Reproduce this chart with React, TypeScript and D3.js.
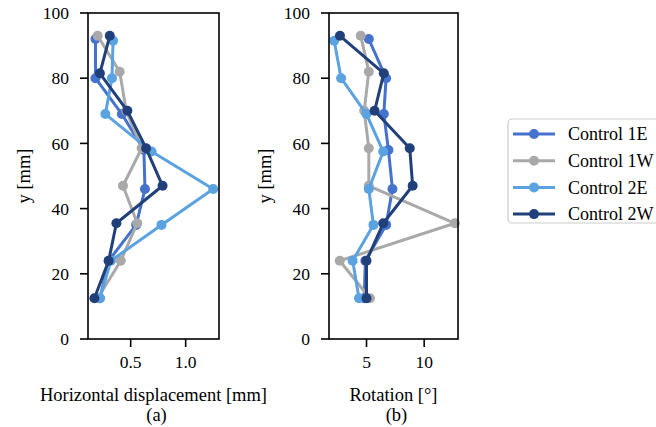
import React from 'react';
import * as d3 from 'd3';

// measured heights [mm] and values per specimen, top to bottom
const seriesNames = ['Control 1E', 'Control 1W', 'Control 2E', 'Control 2W'];
const seriesColors = ['#4472cc', '#a9a9a9', '#5aa3e0', '#21407a'];

const heights1E = [92, 80, 69, 58, 46, 35, 24, 12.5];
const heights1W = [93, 82, 70, 58.5, 47, 35.5, 24, 12.5];
const heights2E = [91.5, 80, 69, 57.5, 46, 35, 24, 12.5];
const heights2W = [93, 81.5, 70, 58.5, 47, 35.5, 24, 12.5];

const disp1E = [0.18, 0.18, 0.42, 0.62, 0.63, 0.55, 0.30, 0.22];
const disp1W = [0.2, 0.4, 0.46, 0.6, 0.43, 0.56, 0.41, 0.2];
const disp2E = [0.34, 0.33, 0.27, 0.69, 1.25, 0.78, 0.32, 0.22];
const disp2W = [0.31, 0.22, 0.47, 0.64, 0.79, 0.37, 0.3, 0.17];

const rot1E = [5.2, 6.7, 6.5, 6.9, 7.25, 6.7, 4.9, 4.8];
const rot1W = [4.5, 5.2, 4.8, 5.2, 5.2, 12.66, 2.68, 5.3];
const rot2E = [2.2, 2.8, 5.0, 6.45, 5.2, 5.6, 3.8, 4.35];
const rot2W = [2.7, 6.5, 5.7, 8.75, 9.0, 6.45, 5.0, 5.0];

const yTicks = [0, 20, 40, 60, 80, 100];
const dispTicks = [0.5, 1.0];
const rotTicks = [5, 10];

const heights = [heights1E, heights1W, heights2E, heights2W];
const dispData = [disp1E, disp1W, disp2E, disp2W];
const rotData = [rot1E, rot1W, rot2E, rot2W];

const FONT = '"Liberation Serif", "Times New Roman", serif';

const Panel = ({ left, right, domain, ticks, values, fmt, label, sub }) => {
  const top = 13, bottom = 339;
  const x = d3.scaleLinear().domain(domain).range([left, right]);
  const y = d3.scaleLinear().domain([0, 100]).range([bottom, top]);
  const line = d3.line<[number, number]>().x(d => x(d[0])).y(d => y(d[1]));
  const cx = (left + right) / 2;
  return (
    <g>
      {values.map((vals, i) => {
        const pts: [number, number][] = vals.map((v, j) => [v, heights[i][j]]);
        return (
          <g key={i}>
            <path d={line(pts) || ''} fill="none" stroke={seriesColors[i]} strokeWidth={3} strokeLinejoin="round" />
            {pts.map((p, j) => (
              <circle key={j} cx={x(p[0])} cy={y(p[1])} r={5} fill={seriesColors[i]} />
            ))}
          </g>
        );
      })}
      <rect x={left} y={top} width={right - left} height={bottom - top} fill="none" stroke="#000" strokeWidth={1.6} />
      {yTicks.map(t => (
        <g key={t}>
          <line x1={left - 8} x2={left} y1={y(t)} y2={y(t)} stroke="#000" strokeWidth={1.6} />
          <text x={left - 19} y={y(t)} dy="0.35em" textAnchor="end" fontSize={17.5} fontFamily={FONT}>{t}</text>
        </g>
      ))}
      {ticks.map(t => (
        <g key={t}>
          <line x1={x(t)} x2={x(t)} y1={bottom} y2={bottom + 8} stroke="#000" strokeWidth={1.6} />
          <text x={x(t)} y={bottom + 29} textAnchor="middle" fontSize={17.5} fontFamily={FONT}>{fmt(t)}</text>
        </g>
      ))}
      <text x={cx} y={bottom + 62} textAnchor="middle" fontSize={18.5} fontFamily={FONT}>{label}</text>
      <text x={cx + 3} y={bottom + 82} textAnchor="middle" fontSize={18.5} fontFamily={FONT}>{sub}</text>
      <text transform={`translate(${left - 58},${(top + bottom) / 2}) rotate(-90)`} textAnchor="middle" fontSize={18.5} fontFamily={FONT}>y [mm]</text>
    </g>
  );
};

export default function App() {
  return (
    <svg width={656} height={427} style={{ position: 'absolute', left: 0, top: 0, background: '#fff' }}>
      <Panel left={88} right={219} domain={[0.112, 1.303]} ticks={dispTicks} values={dispData}
        fmt={d3.format('.1f')} label="Horizontal displacement [mm]" sub="(a)" />
      <Panel left={329} right={458} domain={[1.75, 12.93]} ticks={rotTicks} values={rotData}
        fmt={d3.format('d')} label="Rotation [°]" sub="(b)" />
      <g>
        <rect x={508} y={119} width={160} height={104} rx={4} fill="#fff" stroke="#cccccc" strokeWidth={1.2} />
        {seriesNames.map((n, i) => {
          const ly = 134 + i * 26.7;
          return (
            <g key={n}>
              <line x1={513} x2={555} y1={ly} y2={ly} stroke={seriesColors[i]} strokeWidth={3} />
              <circle cx={534} cy={ly} r={5} fill={seriesColors[i]} />
              <text x={568} y={ly} dy="0.35em" fontSize={18} fontFamily={FONT}>{n}</text>
            </g>
          );
        })}
      </g>
    </svg>
  );
}
